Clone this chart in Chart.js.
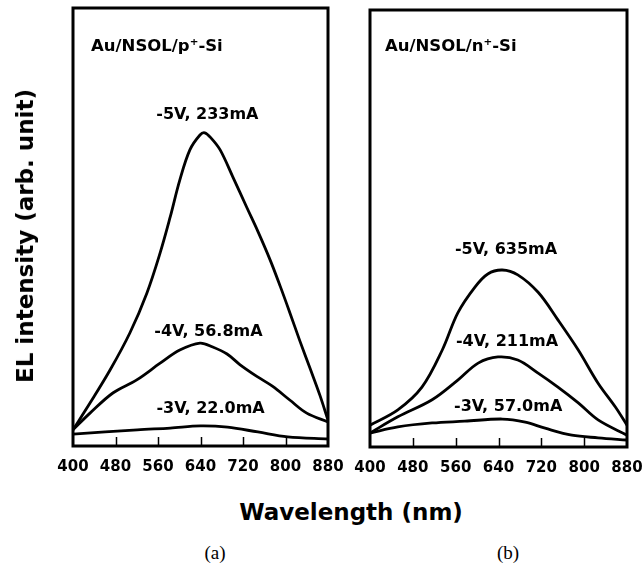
<!DOCTYPE html>
<html>
<head>
<meta charset="utf-8">
<script src="https://cdn.jsdelivr.net/npm/chart.js@4/dist/chart.umd.min.js"></script>
<style>
  body { margin: 0; background: #fff; }
  #wrap { position: relative; width: 643px; height: 571px; overflow: hidden; }
  canvas { position: absolute; top: 0; }
  .txt { position: absolute; color: #000; white-space: nowrap; transform: translate(-50%, -50%); }
  .bold { font-family: "DejaVu Sans", sans-serif; font-weight: bold; font-size: 23px; }
  .serif { font-family: "Liberation Serif", serif; font-size: 19px; }
</style>
</head>
<body>
<div id="wrap">
  <canvas id="chartA" width="350" height="480" style="left:0"></canvas>
  <canvas id="chartB" width="293" height="481" style="left:350px"></canvas>
  <div class="txt bold" style="left:25px; top:236px; transform: translate(-50%, -50%) rotate(-90deg);">EL intensity (arb. unit)</div>
  <div class="txt bold" style="left:351px; top:512px;">Wavelength (nm)</div>
  <div class="txt serif" style="left:215px; top:553px;">(a)</div>
  <div class="txt serif" style="left:508px; top:553px;">(b)</div>
</div>
<script>
// --- datos (longitud de onda en nm, intensidad arb.) ---
const tickWl = [400, 480, 560, 640, 720, 800, 880];

// (a) Au/NSOL/p+-Si
const wlA5 = [400, 432, 470, 507, 539, 564, 583, 601, 620, 639, 648, 660, 677, 701, 727, 748, 771, 790, 808, 827, 846, 865, 880];
const elA5 = [3.7, 9.8, 17.4, 25.8, 34.9, 44.1, 52.3, 60.7, 67.6, 71.0, 71.5, 70.3, 67.6, 61.4, 54.5, 49.0, 42.5, 36.5, 30.5, 24.0, 17.8, 11.5, 5.9];
const wlA4 = [400, 432, 475, 520, 564, 601, 639, 663, 690, 714, 746, 776, 808, 840, 880];
const elA4 = [3.7, 7.5, 12.1, 15.1, 18.9, 21.9, 23.5, 22.6, 21.0, 18.6, 15.9, 13.6, 10.5, 7.5, 5.5];
const wlA3 = [400, 521, 583, 640, 691, 748, 804, 880];
const elA3 = [2.7, 3.7, 4.1, 4.6, 4.3, 3.2, 2.1, 1.6];

// (b) Au/NSOL/n+-Si
const wlB5 = [400, 452, 497, 535, 564, 596, 620, 647, 676, 714, 751, 789, 826, 858, 880];
const elB5 = [5.0, 8.5, 13.7, 22.2, 30.7, 36.6, 39.6, 40.5, 39.4, 35.4, 29.1, 22.2, 14.6, 9.2, 5.0];
const wlB4 = [400, 452, 516, 564, 602, 639, 676, 714, 751, 789, 826, 880];
const elB4 = [3.2, 6.9, 10.8, 15.3, 19.2, 20.6, 19.9, 16.9, 13.7, 10.1, 6.2, 2.7];
const wlB3 = [400, 452, 516, 577, 647, 690, 727, 777, 826, 880];
const elB3 = [3.2, 4.6, 5.5, 5.9, 6.4, 5.7, 4.3, 2.7, 2.1, 1.6];

const labelsA = ['-5V, 233mA', '-4V, 56.8mA', '-3V, 22.0mA'];
const labelsB = ['-5V, 635mA', '-4V, 211mA', '-3V, 57.0mA'];
const sampleA = 'Au/NSOL/p\u207A-Si';
const sampleB = 'Au/NSOL/n\u207A-Si';

// ================= helpers =================
function serie(wl, el, nombre) {
    return {
        label: nombre,
        data: wl.map((x, i) => ({ x: x, y: el[i] })),
        borderColor: '#000',
        borderWidth: 2.8,
        pointRadius: 0,
        fill: false,
        tension: 0.35
    };
}

// marco, marcas interiores y textos
const marcoPlugin = {
    id: 'marco',
    afterDraw(chart, args, opts) {
        const { ctx, chartArea: a, scales: { x, y } } = chart;
        ctx.save();
        ctx.strokeStyle = '#000';
        ctx.lineWidth = 1.5;
        tickWl.slice(1, -1).forEach(v => {
            const px = Math.round(x.getPixelForValue(v)) + 0.5;
            ctx.beginPath();
            ctx.moveTo(px, a.bottom);
            ctx.lineTo(px, a.bottom - 9);
            ctx.stroke();
        });
        ctx.lineWidth = 3;
        ctx.strokeRect(a.left, a.top, a.right - a.left, a.bottom - a.top);

        ctx.fillStyle = '#000';
        ctx.textBaseline = 'middle';
        opts.notas.forEach(n => {
            ctx.font = 'bold ' + n.size + 'px "DejaVu Sans"';
            ctx.textAlign = n.align;
            ctx.fillText(n.text, x.getPixelForValue(n.x), y.getPixelForValue(n.y));
        });
        ctx.restore();
    }
};

function crearPanel(id, series, pad, notas) {
    return new Chart(document.getElementById(id), {
        type: 'line',
        data: { datasets: series },
        plugins: [marcoPlugin],
        options: {
            responsive: false,
            animation: false,
            layout: { padding: pad },
            plugins: { legend: { display: false }, tooltip: { enabled: false }, marco: { notas: notas } },
            scales: {
                x: {
                    type: 'linear', min: 400, max: 880,
                    grid: { display: false, drawTicks: false },
                    border: { display: false },
                    afterBuildTicks: s => { s.ticks = tickWl.map(v => ({ value: v })); },
                    afterFit: s => { s.height = 34; s.paddingLeft = 0; s.paddingRight = 0; },
                    ticks: {
                        autoSkip: false, maxRotation: 0, padding: 12, color: '#000',
                        font: { family: 'DejaVu Sans', weight: 'bold', size: 15 }
                    }
                },
                y: { type: 'linear', min: 0, max: 100, display: false }
            }
        }
    });
}

crearPanel('chartA',
    [serie(wlA5, elA5, labelsA[0]), serie(wlA4, elA4, labelsA[1]), serie(wlA3, elA3, labelsA[2])],
    { left: 73, right: 22, top: 8, bottom: 0 },
    [
        { text: sampleA, x: 434, y: 91.1, align: 'left', size: 16.5 },
        { text: labelsA[0], x: 653, y: 75.6, align: 'center', size: 16 },
        { text: labelsA[1], x: 655, y: 26.0, align: 'center', size: 16 },
        { text: labelsA[2], x: 659, y: 8.4, align: 'center', size: 16 }
    ]);

crearPanel('chartB',
    [serie(wlB5, elB5, labelsB[0]), serie(wlB4, elB4, labelsB[1]), serie(wlB3, elB3, labelsB[2])],
    { left: 20, right: 16, top: 10, bottom: 0 },
    [
        { text: sampleB, x: 428, y: 91.5, align: 'left', size: 16.5 },
        { text: labelsB[0], x: 654, y: 45.1, align: 'center', size: 16 },
        { text: labelsB[1], x: 656, y: 24.0, align: 'center', size: 16 },
        { text: labelsB[2], x: 658, y: 9.2, align: 'center', size: 16 }
    ]);
</script>
</body>
</html>
